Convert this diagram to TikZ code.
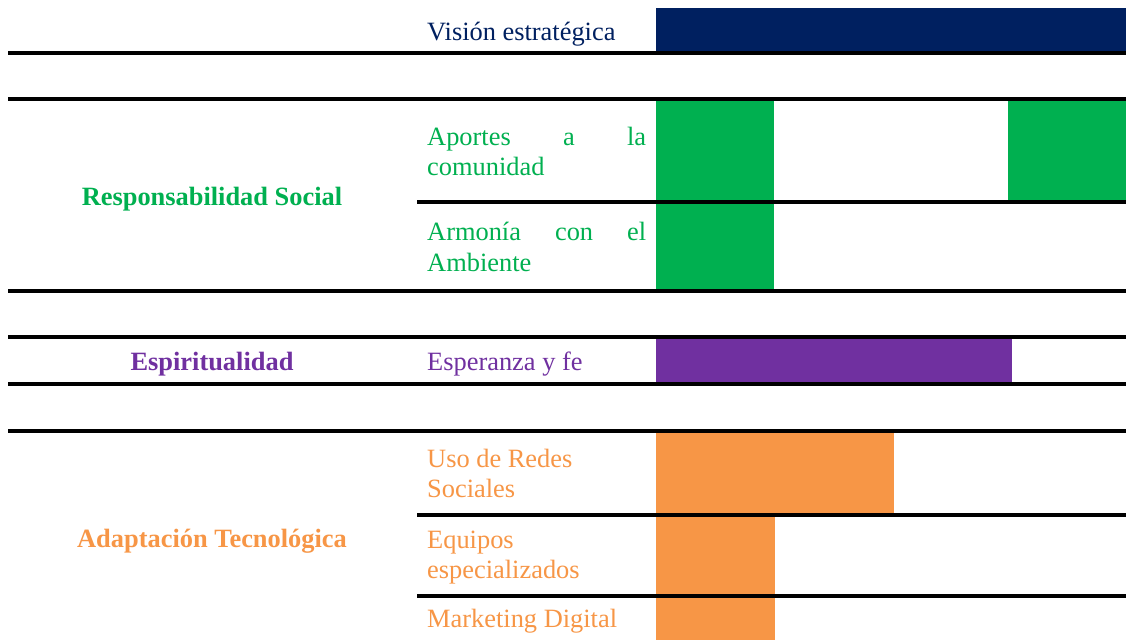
\documentclass[tikz,border=0pt]{standalone}
\usepackage{fontspec}
\setmainfont{Liberation Serif}
\definecolor{cnavy}{HTML}{002060}
\definecolor{cgreen}{HTML}{00B050}
\definecolor{cpurple}{HTML}{7030A0}
\definecolor{corange}{HTML}{F79646}
\begin{document}
\begin{tikzpicture}[x=1pt,y=-1pt,
  rule/.style={line width=3.2pt, black},
  lbl/.style={anchor=base west, inner sep=0pt, font=\fontsize{26.4}{30}\selectfont},
  cat/.style={anchor=base, inner sep=0pt, font=\fontsize{26.4}{30}\selectfont\bfseries}]
\useasboundingbox (0,0) rectangle (1126,640);
\fill[white] (0,0) rectangle (1126,640);
% bars
\fill[cnavy]   (656,8)   rectangle (1126,53);
\fill[cgreen]  (656,100) rectangle (774,202);
\fill[cgreen]  (1008,100) rectangle (1126,202);
\fill[cgreen]  (656,202) rectangle (774,291);
\fill[cpurple] (656,337) rectangle (1012,384);
\fill[corange] (656,431) rectangle (894,515);
\fill[corange] (656,515) rectangle (775,596);
\fill[corange] (656,596) rectangle (775,640);
% rules
\coordinate (l1a) at (8,53);   \coordinate (l1b) at (1126,53);
\coordinate (l2a) at (8,99);   \coordinate (l2b) at (1126,99);
\coordinate (l3a) at (417,202);\coordinate (l3b) at (1126,202);
\coordinate (l4a) at (8,291);  \coordinate (l4b) at (1126,291);
\coordinate (l5a) at (8,337);  \coordinate (l5b) at (1126,337);
\coordinate (l6a) at (8,384);  \coordinate (l6b) at (1126,384);
\coordinate (l7a) at (8,431);  \coordinate (l7b) at (1126,431);
\coordinate (l8a) at (417,515);\coordinate (l8b) at (1126,515);
\coordinate (l9a) at (417,596);\coordinate (l9b) at (1126,596);
\foreach \i in {1,...,9} {\draw[rule] (l\i a) -- (l\i b);}
% labels
\node[lbl, text=cnavy] (vis) at (427,40) {Visión estratégica};
\node[cat, text=cgreen] (rs) at (212,205) {Responsabilidad Social};
\node[lbl, text=cgreen] (ap1) at (427,145) {\makebox[219pt][s]{Aportes a la}};
\node[lbl, text=cgreen] (ap2) at (427,175) {comunidad};
\node[lbl, text=cgreen] (ar1) at (427,240) {\makebox[219pt][s]{Armonía con el}};
\node[lbl, text=cgreen] (ar2) at (427,271) {Ambiente};
\node[cat, text=cpurple] (esp) at (212,370) {Espiritualidad};
\node[lbl, text=cpurple] (ey) at (427,370) {Esperanza y fe};
\node[cat, text=corange] (at) at (212,547) {Adaptación Tecnológica};
\node[lbl, text=corange] (ur1) at (427,467) {Uso de Redes};
\node[lbl, text=corange] (ur2) at (427,497) {Sociales};
\node[lbl, text=corange] (eq1) at (427,548) {Equipos};
\node[lbl, text=corange] (eq2) at (427,578) {especializados};
\node[lbl, text=corange] (md) at (427,627) {Marketing Digital};
\end{tikzpicture}
\end{document}
